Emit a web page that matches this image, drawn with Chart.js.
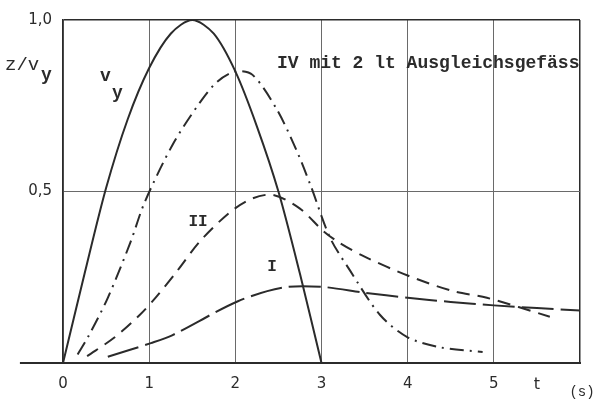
<!DOCTYPE html>
<html>
<head>
<meta charset="utf-8">
<script src="https://cdn.jsdelivr.net/npm/chart.js@4/dist/chart.umd.min.js"></script>
<style>
  html, body { margin: 0; padding: 0; background: #fff; }
  #c { display: block; }
</style>
</head>
<body>
<canvas id="c" width="598" height="400"></canvas>
<script>
// ---- data (t in s, z/vy dimensionless) ----
const preT = [-0.5, 0];          // vy = 0 before t = 0
const preV = [0, 0];

const vyT  = [0, 0.25, 0.5, 0.75, 1, 1.25, 1.5, 1.75, 2, 2.25, 2.5, 2.75, 3];
const vyV  = [0, 0.26, 0.51, 0.71, 0.86, 0.96, 1.0, 0.96, 0.85, 0.69, 0.50, 0.26, 0];

const ivT  = [0.17, 0.3, 0.52, 0.78, 0.95, 1.28, 1.59, 1.79, 2.0, 2.2, 2.48, 2.71, 2.87, 3.1, 3.33, 3.68, 4.0, 4.37, 4.87];
const ivV  = [0.025, 0.08, 0.19, 0.35, 0.47, 0.64, 0.76, 0.82, 0.85, 0.84, 0.74, 0.62, 0.52, 0.365, 0.27, 0.14, 0.075, 0.046, 0.032];

const iiT  = [0.28, 0.6, 0.89, 1.09, 1.33, 1.59, 1.94, 2.2, 2.44, 2.75, 3.02, 3.21, 3.5, 4.0, 4.52, 4.92, 5.65];
const iiV  = [0.02, 0.075, 0.14, 0.195, 0.27, 0.355, 0.44, 0.48, 0.49, 0.45, 0.385, 0.35, 0.31, 0.255, 0.21, 0.19, 0.135];

const iT   = [0.52, 1.02, 1.26, 2.03, 2.55, 3.0, 3.5, 4.0, 4.5, 5.0, 5.5, 6.0];
const iV   = [0.018, 0.058, 0.08, 0.18, 0.22, 0.222, 0.205, 0.19, 0.178, 0.168, 0.16, 0.153];

const xTickValues = [0, 1, 2, 3, 4, 5, 6];
const xTickLabels = ['0', '1', '2', '3', '4', '5', ''];
const yTickValues = [0, 0.5, 1.0];
const yTickLabels = ['', '0,5', '1,0'];

const INK = '#2b2b2b';
const GRID = '#6a6a6a';
const NUMFONT = '"DejaVu Sans", sans-serif';
const TYPEFONT = '"Liberation Mono", "DejaVu Sans Mono", monospace';

const pts = (xs, ys) => xs.map((x, i) => ({ x, y: ys[i] }));

const textPlugin = {
  id: 'texts',
  afterDraw(chart) {
    const { ctx, scales: { x } } = chart;
    ctx.save();
    ctx.fillStyle = INK;
    ctx.textBaseline = 'middle';
    // axis title z/v_y
    ctx.font = '19px ' + TYPEFONT;
    ctx.textAlign = 'left';
    ctx.fillText('z/v', 5, 65);
    ctx.font = 'bold 18px ' + TYPEFONT;
    ctx.fillText('y', 41, 75);
    // curve label v_y
    ctx.font = 'bold 18px ' + TYPEFONT;
    ctx.fillText('v', 100, 76);
    ctx.fillText('y', 112, 93);
    // curve labels
    ctx.font = 'bold 16px ' + TYPEFONT;
    ctx.textAlign = 'center';
    ctx.fillText('II', 198, 222);
    ctx.fillText('I', 272, 267);
    // title label
    ctx.textAlign = 'left';
    ctx.font = 'bold 18px ' + TYPEFONT;
    ctx.fillText('IV mit 2 lt Ausgleichsgefäss', 277, 63);
    // axis unit
    ctx.font = '16px ' + NUMFONT;
    ctx.textAlign = 'center';
    ctx.fillText('t', x.getPixelForValue(5.5), 385);
    ctx.font = '14px ' + TYPEFONT;
    ctx.fillText('(s)', 582, 392);
    ctx.restore();
  }
};

const lineBase = { borderColor: INK, borderWidth: 2, pointRadius: 0, tension: 0.3 };

new Chart(document.getElementById('c'), {
  type: 'line',
  data: {
    datasets: [
      Object.assign({ label: 'vy (t<0)', data: pts(preT, preV), clip: false, tension: 0 }, { borderColor: INK, borderWidth: 2, pointRadius: 0 }),
      Object.assign({ label: 'vy', data: pts(vyT, vyV) }, lineBase),
      Object.assign({ label: 'IV', data: pts(ivT, ivV), borderDash: [14, 6, 2, 6] }, lineBase),
      Object.assign({ label: 'II', data: pts(iiT, iiV), borderDash: [13, 8] }, lineBase),
      Object.assign({ label: 'I', data: pts(iT, iV), borderDash: [32, 7] }, lineBase)
    ]
  },
  options: {
    responsive: false,
    devicePixelRatio: 1,
    animation: false,
    layout: { padding: { top: 17, right: 18, left: 0, bottom: 0 } },
    plugins: { legend: { display: false }, tooltip: { enabled: false } },
    scales: {
      x: {
        type: 'linear', min: 0, max: 6,
        afterBuildTicks: s => { s.ticks = xTickValues.map(v => ({ value: v })); },
        afterFit: s => { s.height = 37; },
        ticks: {
          callback: (v) => { const i = xTickValues.indexOf(v); return i >= 0 ? xTickLabels[i] : ''; },
          font: { family: NUMFONT, size: 15 }, color: INK, padding: 12, maxRotation: 0, autoSkip: false
        },
        grid: {
          drawTicks: false,
          color: c => (c.tick && c.tick.value === 6) ? INK : GRID,
          lineWidth: c => (c.tick && c.tick.value === 6) ? 1.5 : 1
        },
        border: { display: true, color: INK, width: 2 }
      },
      y: {
        type: 'linear', min: 0, max: 1,
        afterBuildTicks: s => { s.ticks = yTickValues.map(v => ({ value: v })); },
        afterFit: s => { s.width = 63; },
        ticks: {
          callback: (v) => { const i = yTickValues.indexOf(v); return i >= 0 ? yTickLabels[i] : ''; },
          font: { family: NUMFONT, size: 15 }, color: INK, padding: 11, autoSkip: false
        },
        grid: {
          drawTicks: false,
          color: c => (c.tick && c.tick.value === 1) ? INK : GRID,
          lineWidth: c => (c.tick && c.tick.value === 1) ? 1.5 : 1
        },
        border: { display: true, color: INK, width: 1.5 }
      }
    }
  },
  plugins: [textPlugin]
});
</script>
</body>
</html>
